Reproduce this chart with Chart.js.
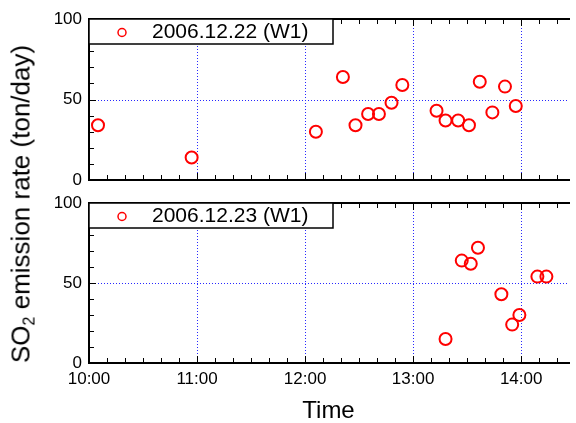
<!DOCTYPE html>
<html>
<head>
<meta charset="utf-8">
<script src="https://cdn.jsdelivr.net/npm/chart.js@4.4.0/dist/chart.umd.min.js"></script>
<style>
  html, body { margin: 0; padding: 0; background: #fff; overflow: hidden; }
  #wrap { position: relative; width: 576px; height: 423px; overflow: hidden; font-family: "Liberation Sans", Arial, sans-serif; }
  #topBox { position: absolute; left: 0; top: 0; width: 576px; height: 190px; }
  #bottomBox { position: absolute; left: 0; top: 190px; width: 576px; height: 240px; }
  #ytitle { position: absolute; left: 21px; top: 204px; transform: translate(-50%, -50%) rotate(-90deg);
            white-space: nowrap; font-size: 26px; color: #000; }
  #ytitle sub { font-size: 16px; vertical-align: -5px; line-height: 0; }
</style>
</head>
<body>
<div id="wrap">
  <div id="topBox"><canvas id="chartTop"></canvas></div>
  <div id="bottomBox"><canvas id="chartBottom"></canvas></div>
  <div id="ytitle">SO<sub>2</sub> emission rate (ton/day)</div>
</div>
<script>
// data (time of day, SO2 rate in ton/day)
const label22 = '2006.12.22 (W1)';
const times22 = ['10:05', '10:57', '12:06', '12:21', '12:28', '12:35', '12:41', '12:48', '12:54',
                 '13:13', '13:18', '13:25', '13:31', '13:37', '13:44', '13:51', '13:57'];
const values22 = [34, 14, 30, 64, 34, 41, 41, 48, 59, 43, 37, 37, 34, 61, 42, 58, 46];

const label23 = '2006.12.23 (W1)';
const times23 = ['13:18', '13:27', '13:32', '13:36', '13:49', '13:55', '13:59', '14:09', '14:14'];
const values23 = [15, 64, 62, 72, 43, 24, 30, 54, 54];

const xTickLabels = ['10:00', '11:00', '12:00', '13:00', '14:00'];
const yTickValues = [0, 50, 100];
const xStart = '10:00';
const xEnd = '14:26';

function toMin(s) {
    let p = s.split(':');
    return (parseInt(p[0]) - 10) * 60 + parseInt(p[1]);
}
function toLabel(v) {
    let h = 10 + Math.floor(v / 60);
    let m = Math.round(v % 60);
    return h + ':' + (m < 10 ? '0' + m : m);
}

const FONT = '"Liberation Sans", Arial, sans-serif';
const GRID_BLUE = 'rgb(40, 40, 255)';

// dotted blue grid at the major ticks (drawn under the points)
const gridPlugin = {
    id: 'dotgrid',
    beforeDatasetsDraw(chart) {
        const ctx = chart.ctx;
        const a = chart.chartArea;
        ctx.save();
        ctx.fillStyle = GRID_BLUE;
        chart.scales.x.ticks.forEach(t => {
            let px = Math.round(chart.scales.x.getPixelForValue(t.value));
            if (px <= a.left + 1) return;
            for (let y = Math.round(a.top); y < a.bottom; y += 3) ctx.fillRect(px, y, 1, 1);
        });
        chart.scales.y.ticks.forEach(t => {
            let py = Math.round(chart.scales.y.getPixelForValue(t.value));
            if (py <= a.top + 1 || py >= a.bottom - 1) return;
            for (let x = Math.round(a.left); x < a.right; x += 3) ctx.fillRect(x, py, 1, 1);
        });
        ctx.restore();
    }
};

// axis frame with inward ticks, plus the in-plot legend box
const framePlugin = {
    id: 'frame',
    afterDatasetsDraw(chart) {
        const ctx = chart.ctx;
        const a = chart.chartArea;
        const xs = chart.scales.x;
        const ys = chart.scales.y;
        ctx.save();
        ctx.strokeStyle = '#000';
        ctx.lineWidth = 1;
        // minor + major ticks on x (bottom and top)
        for (let v = toMin(xStart); v <= toMin(xEnd); v += 10) {
            let px = Math.round(xs.getPixelForValue(v)) + 0.5;
            let len = (v % 60 === 0) ? 7 : 5;
            ctx.beginPath();
            ctx.moveTo(px, a.bottom); ctx.lineTo(px, a.bottom - len);
            ctx.moveTo(px, a.top); ctx.lineTo(px, a.top + len);
            ctx.stroke();
        }
        // ticks on y (left)
        for (let v = 0; v <= 100; v += 10) {
            let py = Math.round(ys.getPixelForValue(v)) + 0.5;
            let len = (v % 50 === 0) ? 7 : 5;
            ctx.beginPath();
            ctx.moveTo(a.left, py); ctx.lineTo(a.left + len, py);
            ctx.stroke();
        }
        // frame
        ctx.lineWidth = 2;
        ctx.beginPath();
        ctx.moveTo(a.right + 2, a.top);
        ctx.lineTo(a.left, a.top);
        ctx.lineTo(a.left, a.bottom);
        ctx.lineTo(a.right + 2, a.bottom);
        ctx.stroke();

        // legend box
        const ds = chart.data.datasets[0];
        const boxH = 25;
        ctx.fillStyle = '#fff';
        ctx.fillRect(a.left, a.top, 333 - a.left, boxH);
        ctx.lineWidth = 1.5;
        ctx.strokeRect(a.left, a.top, 333 - a.left, boxH);
        ctx.beginPath();
        ctx.arc(122, a.top + boxH / 2 + 1, 4, 0, Math.PI * 2);
        ctx.strokeStyle = 'red';
        ctx.stroke();
        ctx.fillStyle = '#000';
        ctx.font = '21px ' + FONT;
        ctx.textBaseline = 'middle';
        ctx.fillText(ds.label, 152, a.top + boxH / 2 + 1);
        ctx.restore();
    }
};

function makeChart(id, label, times, values, isBottom) {
    const ctx = document.getElementById(id).getContext('2d');
    return new Chart(ctx, {
        type: 'scatter',
        data: {
            datasets: [{
                label: label,
                data: times.map((t, i) => ({ x: toMin(t), y: values[i] })),
                borderColor: 'red',
                backgroundColor: 'rgba(0,0,0,0)',
                borderWidth: 2,
                pointRadius: 6,
                pointStyle: 'circle'
            }]
        },
        options: {
            responsive: true,
            maintainAspectRatio: false,
            animation: false,
            layout: { padding: { top: isBottom ? 13 : 19, left: 0, right: 0, bottom: 0 } },
            plugins: { legend: { display: false }, tooltip: { enabled: false } },
            scales: {
                x: {
                    type: 'linear',
                    min: toMin(xStart),
                    max: toMin(xEnd),
                    afterBuildTicks: (scale) => {
                        scale.ticks = xTickLabels.map(s => ({ value: toMin(s) }));
                    },
                    afterFit: (scale) => {
                        scale.height = isBottom ? 67 : 10;
                        scale.paddingLeft = 0;
                        scale.paddingRight = 0;
                    },
                    grid: { display: false, drawTicks: false },
                    border: { display: false },
                    ticks: {
                        display: isBottom,
                        padding: 6,
                        color: '#000',
                        font: { family: FONT, size: 17 },
                        callback: (v) => toLabel(v)
                    },
                    title: {
                        display: isBottom,
                        text: 'Time',
                        color: '#000',
                        font: { family: FONT, size: 24 },
                        padding: { top: 0, bottom: 4 }
                    }
                },
                y: {
                    min: 0,
                    max: 100,
                    afterBuildTicks: (scale) => {
                        scale.ticks = yTickValues.map(v => ({ value: v }));
                    },
                    afterFit: (scale) => {
                        scale.width = 89;
                        scale.paddingTop = 0;
                        scale.paddingBottom = 0;
                    },
                    grid: { display: false, drawTicks: false },
                    border: { display: false },
                    ticks: {
                        padding: 7,
                        color: '#000',
                        font: { family: FONT, size: 17 }
                    }
                }
            }
        },
        plugins: [gridPlugin, framePlugin]
    });
}

makeChart('chartTop', label22, times22, values22, false);
makeChart('chartBottom', label23, times23, values23, true);
</script>
</body>
</html>
